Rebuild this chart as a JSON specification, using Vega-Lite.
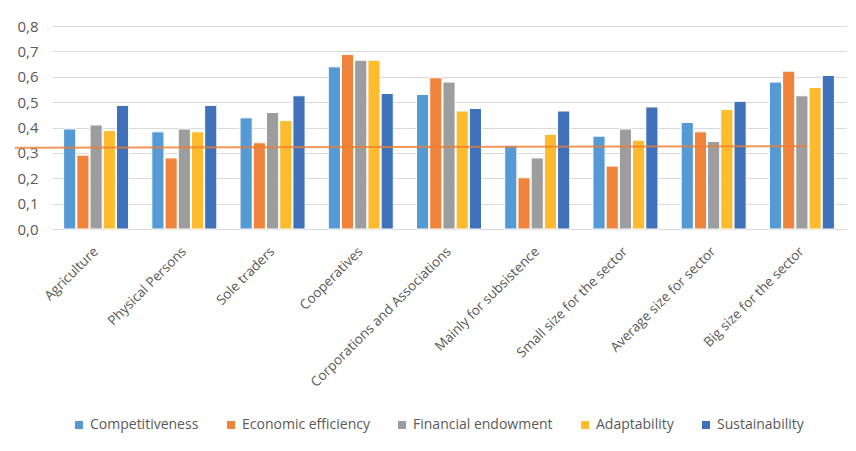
{
  "$schema": "https://vega.github.io/schema/vega-lite/v6.json",
  "width": 794,
  "height": 203,
  "autosize": {"type": "none"},
  "padding": {"left": 52, "top": 26, "right": 10, "bottom": 222},
  "background": "white",
  "datasets": {
    "scores": [
      {"sector": "Agriculture", "indicator": "Competitiveness", "value": 0.394},
      {"sector": "Agriculture", "indicator": "Economic efficiency", "value": 0.291},
      {"sector": "Agriculture", "indicator": "Financial endowment", "value": 0.41},
      {"sector": "Agriculture", "indicator": "Adaptability", "value": 0.388},
      {"sector": "Agriculture", "indicator": "Sustainability", "value": 0.487},
      {"sector": "Physical Persons", "indicator": "Competitiveness", "value": 0.383},
      {"sector": "Physical Persons", "indicator": "Economic efficiency", "value": 0.28},
      {"sector": "Physical Persons", "indicator": "Financial endowment", "value": 0.394},
      {"sector": "Physical Persons", "indicator": "Adaptability", "value": 0.383},
      {"sector": "Physical Persons", "indicator": "Sustainability", "value": 0.487},
      {"sector": "Sole traders", "indicator": "Competitiveness", "value": 0.438},
      {"sector": "Sole traders", "indicator": "Economic efficiency", "value": 0.34},
      {"sector": "Sole traders", "indicator": "Financial endowment", "value": 0.459},
      {"sector": "Sole traders", "indicator": "Adaptability", "value": 0.428},
      {"sector": "Sole traders", "indicator": "Sustainability", "value": 0.525},
      {"sector": "Cooperatives", "indicator": "Competitiveness", "value": 0.639},
      {"sector": "Cooperatives", "indicator": "Economic efficiency", "value": 0.688},
      {"sector": "Cooperatives", "indicator": "Financial endowment", "value": 0.665},
      {"sector": "Cooperatives", "indicator": "Adaptability", "value": 0.665},
      {"sector": "Cooperatives", "indicator": "Sustainability", "value": 0.534},
      {"sector": "Corporations and Associations", "indicator": "Competitiveness", "value": 0.53},
      {"sector": "Corporations and Associations", "indicator": "Economic efficiency", "value": 0.596},
      {"sector": "Corporations and Associations", "indicator": "Financial endowment", "value": 0.579},
      {"sector": "Corporations and Associations", "indicator": "Adaptability", "value": 0.465},
      {"sector": "Corporations and Associations", "indicator": "Sustainability", "value": 0.475},
      {"sector": "Mainly for subsistence", "indicator": "Competitiveness", "value": 0.328},
      {"sector": "Mainly for subsistence", "indicator": "Economic efficiency", "value": 0.202},
      {"sector": "Mainly for subsistence", "indicator": "Financial endowment", "value": 0.28},
      {"sector": "Mainly for subsistence", "indicator": "Adaptability", "value": 0.373},
      {"sector": "Mainly for subsistence", "indicator": "Sustainability", "value": 0.465},
      {"sector": "Small size for the sector", "indicator": "Competitiveness", "value": 0.366},
      {"sector": "Small size for the sector", "indicator": "Economic efficiency", "value": 0.248},
      {"sector": "Small size for the sector", "indicator": "Financial endowment", "value": 0.394},
      {"sector": "Small size for the sector", "indicator": "Adaptability", "value": 0.35},
      {"sector": "Small size for the sector", "indicator": "Sustainability", "value": 0.481},
      {"sector": "Average size for sector", "indicator": "Competitiveness", "value": 0.42},
      {"sector": "Average size for sector", "indicator": "Economic efficiency", "value": 0.383},
      {"sector": "Average size for sector", "indicator": "Financial endowment", "value": 0.345},
      {"sector": "Average size for sector", "indicator": "Adaptability", "value": 0.471},
      {"sector": "Average size for sector", "indicator": "Sustainability", "value": 0.503},
      {"sector": "Big size for the sector", "indicator": "Competitiveness", "value": 0.579},
      {"sector": "Big size for the sector", "indicator": "Economic efficiency", "value": 0.622},
      {"sector": "Big size for the sector", "indicator": "Financial endowment", "value": 0.525},
      {"sector": "Big size for the sector", "indicator": "Adaptability", "value": 0.558},
      {"sector": "Big size for the sector", "indicator": "Sustainability", "value": 0.605}
    ],
    "average": [
      {"from": "Agriculture", "to": "Big size for the sector", "start": 0.32, "end": 0.326}
    ]
  },
  "layer": [
    {
      "data": {"name": "scores"},
      "mark": {"type": "bar", "stroke": "white", "strokeWidth": 1},
      "encoding": {
        "x": {
          "field": "sector",
          "type": "nominal",
          "title": null,
          "scale": {
            "domain": ["Agriculture", "Physical Persons", "Sole traders", "Cooperatives", "Corporations and Associations", "Mainly for subsistence", "Small size for the sector", "Average size for sector", "Big size for the sector"],
            "paddingInner": 0.263,
            "paddingOuter": 0.1315
          },
          "axis": {
            "labelAngle": -45,
            "labelAlign": "right",
            "labelBaseline": "middle",
            "labelPadding": 20,
            "ticks": false,
            "domain": true,
            "domainColor": "#D9D9D9",
            "domainWidth": 1,
            "labelColor": "#595959",
            "labelFontSize": 13.5,
            "labelFont": "Open Sans",
            "labelLimit": 300,
            "labelOverlap": false
          }
        },
        "xOffset": {
          "field": "indicator",
          "type": "nominal",
          "sort": ["Competitiveness", "Economic efficiency", "Financial endowment", "Adaptability", "Sustainability"],
          "scale": {"paddingInner": 0.08, "paddingOuter": 0}
        },
        "y": {
          "field": "value",
          "type": "quantitative",
          "title": null,
          "scale": {"domain": [0, 0.8], "nice": false},
          "axis": {
            "values": [0, 0.1, 0.2, 0.3, 0.4, 0.5, 0.6, 0.7, 0.8],
            "tickCount": 12,
            "labelExpr": "replace(format(datum.value, '.1f'), '.', ',')",
            "labelOverlap": false,
            "ticks": false,
            "domain": false,
            "grid": true,
            "gridColor": "#D9D9D9",
            "gridWidth": 1,
            "labelPadding": 14,
            "labelColor": "#595959",
            "labelFontSize": 15,
            "labelFont": "Open Sans"
          }
        },
        "color": {
          "field": "indicator",
          "type": "nominal",
          "title": null,
          "scale": {
            "domain": ["Competitiveness", "Economic efficiency", "Financial endowment", "Adaptability", "Sustainability"],
            "range": ["#559AD4", "#F0843C", "#9B9D9E", "#FDBB2D", "#3F72BB"]
          },
          "legend": {
            "orient": "none",
            "direction": "horizontal",
            "legendX": 20,
            "legendY": 392,
            "symbolType": "square",
            "symbolSize": 64,
            "symbolStrokeWidth": 0,
            "labelFontSize": 14,
            "labelFont": "Open Sans",
            "labelColor": "#595959",
            "labelOffset": 4,
            "columnPadding": 25
          }
        }
      }
    },
    {
      "data": {"name": "average"},
      "mark": {"type": "rule", "color": "#ED7D31", "strokeWidth": 2, "opacity": 0.8},
      "encoding": {
        "x": {"field": "from", "type": "nominal", "bandPosition": -0.75},
        "x2": {"field": "to", "bandPosition": 0.58},
        "y": {
          "field": "start",
          "type": "quantitative",
          "title": null,
          "axis": {
            "values": [0, 0.1, 0.2, 0.3, 0.4, 0.5, 0.6, 0.7, 0.8],
            "tickCount": 12,
            "labelExpr": "replace(format(datum.value, '.1f'), '.', ',')",
            "labelOverlap": false,
            "ticks": false,
            "domain": false,
            "grid": true,
            "gridColor": "#D9D9D9",
            "gridWidth": 1,
            "labelPadding": 14,
            "labelColor": "#595959",
            "labelFontSize": 15,
            "labelFont": "Open Sans"
          }
        },
        "y2": {"field": "end"}
      }
    }
  ],
  "config": {
    "view": {"stroke": null},
    "font": "Open Sans"
  }
}
